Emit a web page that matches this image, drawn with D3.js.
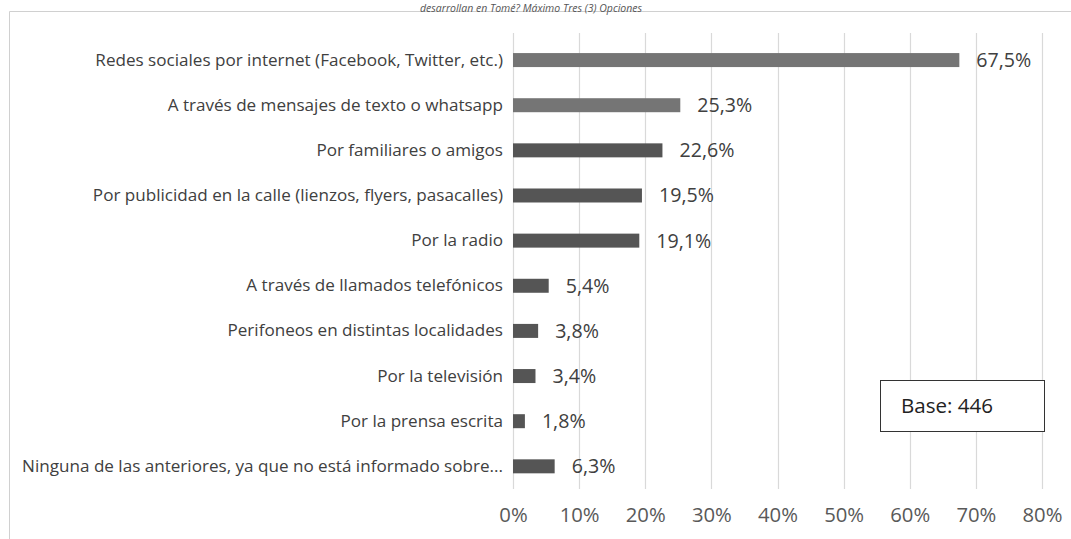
<!DOCTYPE html>
<html><head><meta charset="utf-8">
<script src="https://cdn.jsdelivr.net/npm/d3@7"></script>
<style>body{margin:0;background:#fff;} svg{display:block;}</style>
</head><body>
<svg id="c" width="1071" height="539"></svg>
<script>
const categories = [
  "Redes sociales por internet (Facebook, Twitter, etc.)",
  "A través de mensajes de texto o whatsapp",
  "Por familiares o amigos",
  "Por publicidad en la calle (lienzos, flyers, pasacalles)",
  "Por la radio",
  "A través de llamados telefónicos",
  "Perifoneos en distintas localidades",
  "Por la televisión",
  "Por la prensa escrita",
  "Ninguna de las anteriores, ya que no está informado sobre..."
];
const values = [67.5, 25.3, 22.6, 19.5, 19.1, 5.4, 3.8, 3.4, 1.8, 6.3];
const tickValues = [0, 10, 20, 30, 40, 50, 60, 70, 80];
const titleText = "desarrollan en Tomé? Máximo Tres (3) Opciones";
const baseText = "Base: 446";

const svg = d3.select("#c");
const font = "'Open Sans', sans-serif";

// size a selection so that reference nodes reach a target total width
function fitSize(sel, refNodes, target, base) {
  sel.attr("font-size", base);
  const w = d3.sum(refNodes, n => n.getComputedTextLength());
  sel.attr("font-size", base * target / w);
}

// frame
svg.append("path").attr("d", "M9.5,539 V11.5 H1071").attr("fill","none").attr("stroke","#d0d0d0").attr("stroke-width",1);

// title (partially hidden in the reference; kept fully visible here)
svg.append("text").attr("x", 531).attr("y", 11.5).attr("text-anchor","middle")
  .attr("font-family", font).attr("font-style","italic").attr("font-size", 10.5).attr("fill","#555")
  .text(titleText);

const x = d3.scaleLinear().domain([0, 80]).range([513, 1042]);
const y = d3.scaleBand().domain(categories).range([37.5, 488.9]).paddingInner(0.69).paddingOuter(0.345);

// gridlines
svg.append("g").selectAll("line").data(tickValues).join("line")
  .attr("x1", d => Math.round(x(d)) + 0.5).attr("x2", d => Math.round(x(d)) + 0.5)
  .attr("y1", 33).attr("y2", 489)
  .attr("stroke", "#d9d9d9").attr("stroke-width", 1.2);

// x axis labels
const xAxis = d3.axisBottom(x).tickValues(tickValues).tickFormat(d => d + "%").tickSize(0).tickPadding(0);
const gx = svg.append("g").attr("transform", "translate(0,508)").call(xAxis);
gx.select(".domain").remove();
const xt = gx.selectAll("text").attr("font-family", font).attr("fill", "#595959");
fitSize(xt, [xt.nodes()[8]], 40, 16);

// y axis labels
const yAxis = d3.axisLeft(y).tickSize(0).tickPadding(0);
const gy = svg.append("g").attr("transform", "translate(503,0)").call(yAxis);
gy.select(".domain").remove();
const yt = gy.selectAll("text").attr("font-family", font).attr("fill", "#404040");
fitSize(yt, [yt.nodes()[0], yt.nodes()[9]], 423 + 466, 15);

// bars
svg.append("g").selectAll("rect").data(values).join("rect")
  .attr("x", x(0)).attr("y", (d,i) => y(categories[i]))
  .attr("width", d => x(d) - x(0)).attr("height", y.bandwidth())
  .attr("fill", (d,i) => i < 2 ? "#757575" : "#555555");

// value labels
const vl = svg.append("g").selectAll("text").data(values).join("text")
  .attr("x", d => x(d) + 17).attr("y", (d,i) => y(categories[i]) + y.bandwidth()/2)
  .attr("dy", "0.35em").attr("font-family", font).attr("fill", "#404040")
  .text(d => d.toFixed(1).replace(".", ",") + "%");
fitSize(vl, [vl.nodes()[0]], 55, 17);

// base box
svg.append("rect").attr("x", 880.5).attr("y", 380.5).attr("width", 164).attr("height", 51)
  .attr("fill", "#fff").attr("stroke", "#333").attr("stroke-width", 1);
const bt = svg.append("text").attr("x", 901).attr("y", 406).attr("dy","0.35em")
  .attr("font-family", font).attr("fill", "#222").text(baseText);
fitSize(bt, [bt.node()], 92, 18);
</script>
</body></html>
